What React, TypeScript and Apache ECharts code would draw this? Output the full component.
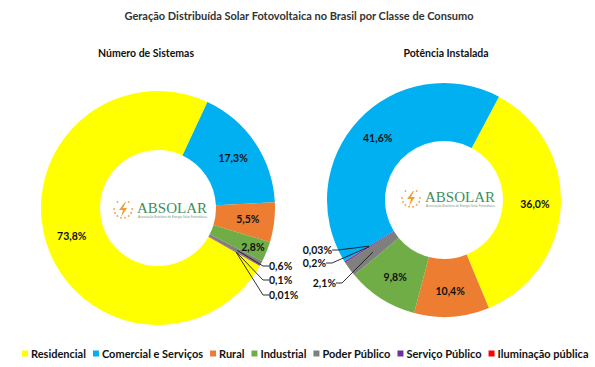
import React, { useEffect, useRef } from 'react';
import * as echarts from 'echarts';

const categories = ['Residencial', 'Comercial e Serviços', 'Rural', 'Industrial', 'Poder Público', 'Serviço Público', 'Iluminação pública'];
const colors = ['#FFFF00', '#00B0F0', '#ED7D31', '#70AD47', '#7F7F7F', '#7030A0', '#FF0000'];
const sistemasValues = [73.8, 17.3, 5.5, 2.8, 0.6, 0.1, 0.01];
const potenciaValues = [36.0, 41.6, 10.4, 9.8, 2.1, 0.2, 0.03];
// clockwise drawing order of the slices (indices into categories)
const sistemasOrder = [0, 1, 2, 3, 4, 5, 6];
const potenciaOrder = [0, 2, 3, 4, 5, 6, 1];

const mainTitle = 'Geração Distribuída Solar Fotovoltaica no Brasil por Classe de Consumo';
const leftTitle = 'Número de Sistemas';
const rightTitle = 'Potência Instalada';

const FONT = 'Lato, "Open Sans", sans-serif';
const SMALL = 2.5;

function fmt(v: number): string {
  const s = v < 0.1 ? v.toFixed(2) : v.toFixed(1);
  return s.replace('.', ',') + '%';
}

// visible slices; only the larger ones carry an inside label
function buildData(values: number[], order: number[]) {
  return order.map((i) => ({
    name: categories[i],
    value: values[i],
    itemStyle: { color: colors[i] },
    label: { show: values[i] >= SMALL, position: 'inside' },
    labelLine: { show: false },
  }));
}

// transparent copy of the ring whose tiny slices carry the outside labels,
// so that the leader lines start from inside the ring
function buildGhost(values: number[], order: number[]) {
  return order.map((i) => ({
    name: categories[i],
    value: values[i],
    itemStyle: { color: 'rgba(0,0,0,0)' },
    label: { show: values[i] < SMALL, position: 'outside' },
    labelLine: { show: values[i] < SMALL },
  }));
}

function logo(cx: number, cy: number) {
  const dots: any[] = [];
  const n = 14;
  for (let k = 0; k < n; k++) {
    const a = (k / n) * Math.PI * 2;
    dots.push({
      type: 'circle',
      shape: { cx: cx - 35 + Math.cos(a) * 9, cy: cy + Math.sin(a) * 9, r: 0.9 },
      style: { fill: '#F5A34A' },
    });
  }
  return [
    ...dots,
    {
      type: 'polygon',
      shape: {
        points: [
          [cx - 33, cy - 7],
          [cx - 39, cy + 1],
          [cx - 35, cy + 1],
          [cx - 37, cy + 8],
          [cx - 31, cy - 1],
          [cx - 35, cy - 1],
          [cx - 32, cy - 7],
        ],
      },
      style: { fill: '#F39C33' },
    },
    {
      type: 'text',
      x: cx - 21,
      y: cy - 1,
      style: {
        text: 'ABSOLAR',
        fill: '#3E8E5E',
        font: '15px "Liberation Serif", "DejaVu Serif", serif',
        align: 'left',
        verticalAlign: 'middle',
      },
    },
    {
      type: 'text',
      x: cx - 20,
      y: cy + 8,
      style: {
        text: 'Associação Brasileira de Energia Solar Fotovoltaica',
        fill: '#7a9a86',
        font: '3px sans-serif',
        align: 'left',
        verticalAlign: 'middle',
      },
    },
  ];
}

export default function App() {
  const ref = useRef<HTMLDivElement>(null);
  useEffect(() => {
    document.body.style.margin = '0';
    const chart = echarts.init(ref.current!, undefined, { renderer: 'svg' });
    const leftCenter = [158, 208];
    const rightCenter = [444, 200];
    const seriesCommon = {
      type: 'pie',
      clockwise: true,
      avoidLabelOverlap: false,
      silent: true,
      label: {
        formatter: (p: any) => fmt(p.value),
        fontFamily: FONT,
        fontWeight: 'bold',
        fontSize: 10.5,
        color: '#111',
      },
      labelLine: {
        length: 12,
        length2: 6,
        lineStyle: { color: '#1a1a1a', width: 0.9 },
      },
      itemStyle: { borderWidth: 0 },
      emphasis: { disabled: true },
    };
    // outside-label placements for the tiny slices, keyed by data index in each series
    const leftPlaces: Record<number, [number, number]> = {
      4: [269, 266],
      5: [269, 280],
      6: [269, 295],
    };
    const rightPlaces: Record<number, [number, number]> = {
      5: [332, 250],
      4: [326, 263],
      3: [336, 283],
    };
    const mkLayout = (table: Record<number, [number, number]>, side: number) => (params: any) => {
      const p = table[params.dataIndex];
      if (!p) return {};
      return {
        x: p[0],
        y: p[1],
        align: side > 0 ? 'left' : 'right',
        verticalAlign: 'middle',
        hideOverlap: false,
      };
    };
    chart.setOption({
      animation: false,
      backgroundColor: '#fff',
      legend: {
        data: categories,
        bottom: 8,
        left: 22,
        padding: 0,
        icon: 'rect',
        itemWidth: 6,
        itemHeight: 6,
        itemGap: 7,
        textStyle: { fontFamily: FONT, fontWeight: 'bold', fontSize: 11, color: '#111', padding: [0, 0, 0, -2] },
        selectedMode: false,
      },
      graphic: [
        {
          type: 'text',
          x: 299,
          y: 15,
          style: { text: mainTitle, font: 'bold 11px ' + FONT, fill: '#333', align: 'center', verticalAlign: 'middle' },
        },
        {
          type: 'text',
          x: 146,
          y: 53,
          style: { text: leftTitle, font: 'bold 10.5px ' + FONT, fill: '#111', align: 'center', verticalAlign: 'middle' },
        },
        {
          type: 'text',
          x: 446,
          y: 53,
          style: { text: rightTitle, font: 'bold 10.5px ' + FONT, fill: '#111', align: 'center', verticalAlign: 'middle' },
        },
        ...logo(leftCenter[0], leftCenter[1] + 1),
        ...logo(rightCenter[0] + 2, rightCenter[1] - 2),
      ],
      series: [
        {
          ...seriesCommon,
          name: leftTitle,
          center: leftCenter,
          radius: [58, 117],
          startAngle: 330.4,
          // nudge the "2,8%" label outward as in the original
          labelLayout: (params: any) => (params.dataIndex === 3 ? { dx: 11, dy: 5 } : {}),
          data: buildData(sistemasValues, sistemasOrder),
        },
        {
          ...seriesCommon,
          name: rightTitle,
          center: rightCenter,
          radius: [59, 117],
          startAngle: 62,
          data: buildData(potenciaValues, potenciaOrder),
        },
        {
          ...seriesCommon,
          name: leftTitle + ' (rótulos)',
          center: leftCenter,
          radius: [58, 90],
          startAngle: 330.4,
          z: 3,
          labelLayout: mkLayout(leftPlaces, 1),
          data: buildGhost(sistemasValues, sistemasOrder),
        },
        {
          ...seriesCommon,
          name: rightTitle + ' (rótulos)',
          center: rightCenter,
          radius: [59, 88],
          startAngle: 62,
          z: 3,
          labelLayout: mkLayout(rightPlaces, -1),
          data: buildGhost(potenciaValues, potenciaOrder),
        },
      ],
    });
    return () => chart.dispose();
  }, []);
  return <div ref={ref} style={{ width: 595, height: 367, position: 'absolute', left: 0, top: 0 }} />;
}
